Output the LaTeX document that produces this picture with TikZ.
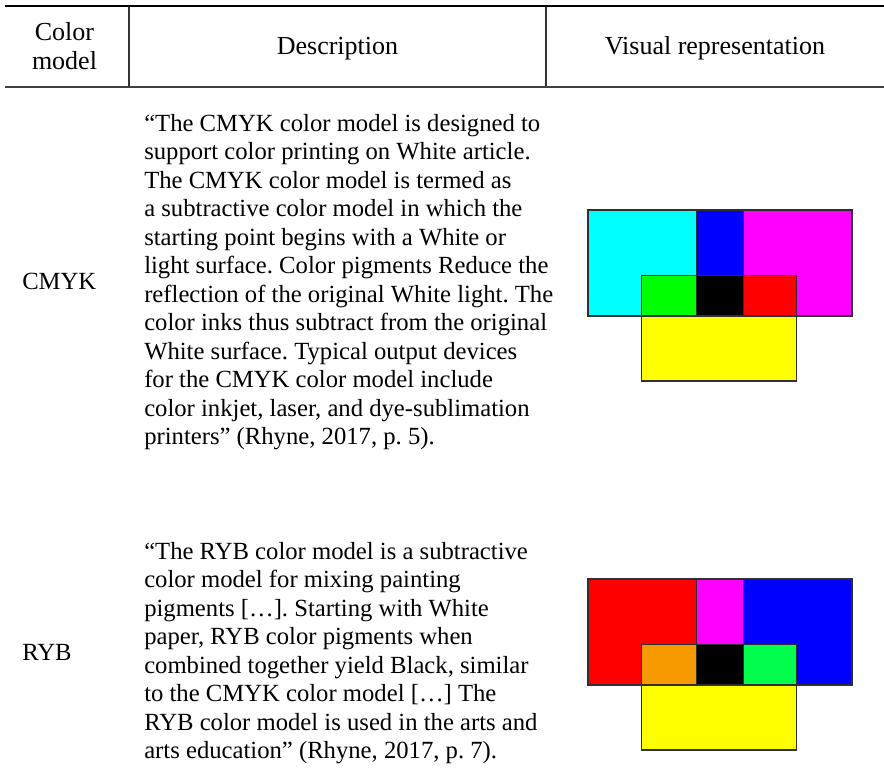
\documentclass[tikz,border=0pt]{standalone}
\usepackage{fontspec}
\setmainfont{Liberation Serif}
\frenchspacing
\definecolor{edge}{HTML}{303030}
\definecolor{cyn}{HTML}{00FFFF}
\definecolor{blu}{HTML}{0000FF}
\definecolor{mag}{HTML}{FF00FF}
\definecolor{grn}{HTML}{00FF00}
\definecolor{rd}{HTML}{FF0000}
\definecolor{yel}{HTML}{FFFF00}
\definecolor{orng}{HTML}{F79A00}
\definecolor{grnb}{HTML}{00FF4C}
\begin{document}
\begin{tikzpicture}[x=0.75pt,y=-0.75pt,
  txt/.style={font=\fontsize{18.5}{22}\selectfont, inner sep=0pt, anchor=base west},
  head/.style={font=\fontsize{19.5}{23}\selectfont, inner sep=0pt, anchor=base},
  blk/.style={draw=edge, line width=0.9pt}]
\useasboundingbox (0,0) rectangle (884,771);
% header rules
\draw[line width=1.7pt] (5,5.7) -- (884,5.7);
\draw[line width=1.1pt, black!75] (5,87) -- (884,87);
\draw[line width=0.8pt, black!80] (129,6.5) -- (129,86.5);
\draw[line width=0.8pt, black!80] (546,6.5) -- (546,86.5);
\node[head] (h1a) at (64.5,40) {Color};
\node[head] (h1b) at (64.5,69) {model};
\node[head] (h2) at (337.5,54) {Description};
\node[head] (h3) at (715,54) {Visual representation};
% row labels
\node[txt] (lc) at (22,289) {CMYK};
\node[txt] (lr) at (22,660) {RYB};
% CMYK description
\foreach \t [count=\i from 0] in {
 {“The CMYK color model is designed to},
 {support color printing on White article.},
 {The CMYK color model is termed as},
 {a subtractive color model in which the},
 {starting point begins with a White or},
 {light surface. Color pigments Reduce the},
 {reflection of the original White light. The},
 {color inks thus subtract from the original},
 {White surface. Typical output devices},
 {for the CMYK color model include},
 {color inkjet, laser, and dye-sublimation},
 {printers” (Rhyne, 2017, p. 5).}}
 \node[txt] (c\i) at (144,{131+28.5*\i}) {\t};
% RYB description
\foreach \t [count=\i from 0] in {
 {“The RYB color model is a subtractive},
 {color model for mixing painting},
 {pigments […]. Starting with White},
 {paper, RYB color pigments when},
 {combined together yield Black, similar},
 {to the CMYK color model […] The},
 {RYB color model is used in the arts and},
 {arts education” (Rhyne, 2017, p. 7).}}
 \node[txt] (r\i) at (144,{559+28.5*\i}) {\t};
% CMYK blocks
\begin{scope}
\fill[cyn] (588,210) rectangle (696.7,316);
\fill[blu] (696.7,210) rectangle (743.3,275.7);
\fill[mag] (743.3,210) rectangle (852,316);
\fill[grn] (641.7,275.7) rectangle (696.7,316);
\fill[black] (696.7,275.7) rectangle (743.3,316);
\fill[rd] (743.3,275.7) rectangle (796.7,316);
\fill[yel] (641.7,316) rectangle (796.7,381);
\draw[blk] (588,210) rectangle (852,316);
\draw[blk] (696.7,210) -- (696.7,316) (743.3,210) -- (743.3,316);
\draw[blk] (641.7,275.7) rectangle (796.7,381);
\end{scope}
% RYB blocks
\begin{scope}[yshift={-369*0.75pt}]
\fill[rd] (588,210) rectangle (696.7,316);
\fill[mag] (696.7,210) rectangle (743.3,275.7);
\fill[blu] (743.3,210) rectangle (852,316);
\fill[orng] (641.7,275.7) rectangle (696.7,316);
\fill[black] (696.7,275.7) rectangle (743.3,316);
\fill[grnb] (743.3,275.7) rectangle (796.7,316);
\fill[yel] (641.7,316) rectangle (796.7,381);
\draw[blk] (588,210) rectangle (852,316);
\draw[blk] (696.7,210) -- (696.7,316) (743.3,210) -- (743.3,316);
\draw[blk] (641.7,275.7) rectangle (796.7,381);
\end{scope}
\end{tikzpicture}
\end{document}
